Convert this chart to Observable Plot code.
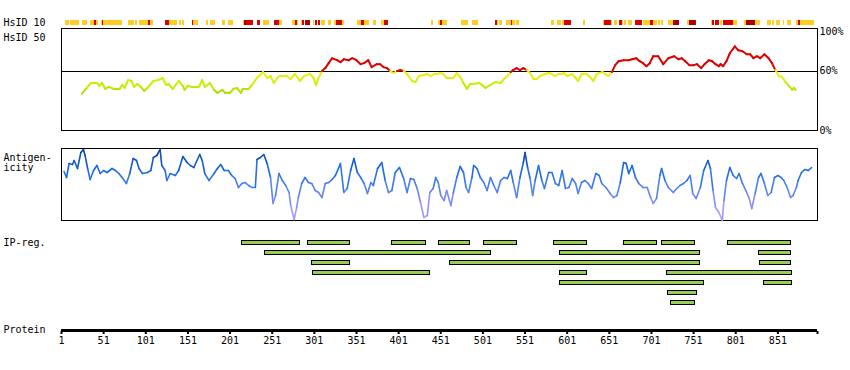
<!DOCTYPE html>
<html><head><meta charset="utf-8">
<script src="https://cdn.jsdelivr.net/npm/d3@7"></script>
<script src="https://cdn.jsdelivr.net/npm/@observablehq/plot@0.6"></script>
<style>
body{margin:0;background:#fff;}
#chart{position:relative;width:850px;height:370px;overflow:hidden;background:#fff;}
#chart svg{position:absolute;left:0;}
</style></head><body><div id="chart"></div>
<script>
// ---------------- DATA ----------------
const proteinLength = 898;
const proteinTicks = [1,51,101,151,201,251,301,351,401,451,501,551,601,651,701,751,801,851];

// HsID 10 strip: segment start/end residues and level (0 = low, 1 = high, 2 = highest)
const stripStart = [6,12,16,26,35,40,42,48,50,51,80,89,93,104,107,124,129,141,145,156,158,173,178,192,199,217,218,221,233,241,254,260,275,279,281,286,287,290,300,302,306,309,318,325,327,334,352,357,360,371,381,384,440,448,451,453,476,489,516,518,521,529,535,536,541,582,589,595,598,620,644,645,653,657,663,667,669,674,682,691,700,704,709,713,721,727,744,746,753,772,774,777,783,786,798,811,814,824,839,845,849,858,862,873,875,878];
const stripEnd   = [11,16,22,32,40,42,45,50,51,73,88,91,104,107,110,129,139,143,147,158,164,175,184,195,205,218,221,229,237,248,260,263,279,281,282,287,289,296,301,305,308,314,321,327,334,337,357,360,366,375,384,389,442,451,453,459,484,496,518,519,524,535,536,540,545,586,594,598,606,623,645,653,655,661,667,668,671,678,690,700,704,708,712,715,727,734,746,753,754,774,776,782,785,798,803,814,824,830,843,847,854,859,867,875,878,894];
const stripLevel = [0,0,0,0,0,1,0,0,1,0,0,0,0,1,0,1,0,0,0,1,0,0,0,0,0,0,2,1,1,0,1,0,0,1,0,0,1,2,0,1,1,0,0,0,1,0,0,1,0,0,0,1,0,0,1,0,0,0,1,0,0,0,1,0,0,0,0,0,1,0,0,1,0,0,1,0,0,0,1,0,1,0,0,0,0,2,0,2,1,0,1,1,0,1,0,0,2,0,0,0,0,0,0,0,1,0];

// HsID 50 (% identity) along the sequence
const hsidPos = [25,31,36,43,46,49,53,57,63,70,73,76,80,84,87,91,95,99,103,110,116,121,125,128,133,140,145,147,151,156,164,168,171,177,182,186,192,195,201,205,209,214,216,223,227,233,240,245,249,253,259,268,273,278,284,289,296,300,303,306,310,314,318,322,328,332,336,342,346,351,356,360,365,369,375,379,383,387,391,395,399,403,407,411,417,421,425,431,435,439,443,447,450,454,458,466,470,474,478,482,486,490,496,500,504,510,516,522,526,530,534,537,541,545,549,553,557,561,565,569,575,579,583,586,591,595,597,601,607,611,614,618,624,628,632,636,643,646,650,654,658,662,668,674,678,683,687,691,695,699,703,709,715,721,728,733,737,741,746,751,755,760,764,769,773,777,781,783,786,790,794,800,804,809,814,818,822,826,830,835,840,844,848,852,856,860,864,868,870,872];
const hsidVal = [37,43,48,48,45,48,42,44,42,42,46,43,51,50,44,47,44,40,43,50,51,53,46,47,42,50,45,41,45,44,44,51,44,48,41,38,41,38,38,42,43,38,42,42,46,53,59,53,55,48,55,55,52,57,50,55,57,53,46,53,60,63,68,73,71,69,72,71,73,71,67,68,71,64,67,67,64,63,60,58,60,61,60,57,50,49,55,56,57,55,57,57,58,57,53,53,58,54,48,42,47,47,48,46,43,46,49,48,52,55,59,61,63,61,63,61,58,52,52,55,57,58,57,55,57,57,58,55,57,53,50,57,57,54,50,57,59,57,55,59,66,70,71,71,72,73,70,68,65,68,75,75,67,73,75,72,73,70,66,66,67,63,67,71,70,67,65,67,65,70,78,85,81,80,77,77,73,75,73,77,73,68,61,55,54,49,45,41,43,41];
const hsidThreshold = 60;
const hsidTicks = [0, 60, 100];

// Antigenicity profile (relative score)
const antPos = [4,7,10,14,16,20,24,27,29,32,35,39,43,47,51,55,61,65,69,73,78,82,86,90,93,97,103,107,110,114,118,120,124,126,130,136,140,145,150,154,158,165,168,171,176,182,186,190,194,199,203,207,211,215,219,223,227,231,233,237,241,245,249,252,255,259,263,267,271,273,277,280,282,286,290,294,298,302,306,310,314,318,322,326,332,336,340,344,348,352,356,360,364,368,371,376,381,385,389,393,397,402,407,411,415,419,423,427,431,435,438,442,445,448,451,455,458,463,466,470,474,478,481,484,488,490,494,498,502,506,510,514,518,522,526,530,534,537,541,545,549,551,554,557,560,563,567,571,574,579,583,587,591,595,599,603,607,611,614,618,622,626,630,635,639,642,647,652,656,660,664,668,671,674,678,682,686,691,696,700,703,707,711,713,717,721,727,731,735,739,743,747,750,754,759,763,768,771,774,777,781,785,787,790,794,798,802,805,809,813,817,820,824,828,831,835,839,843,847,851,855,858,862,866,869,873,875,879,883,887,891];
const antVal = [49,43,57,56,60,52,68,71,65,52,41,50,55,47,50,48,52,50,47,43,37,47,62,60,52,47,48,50,63,65,71,55,50,40,47,45,50,64,58,55,53,66,60,47,40,47,52,56,50,50,45,42,33,37,38,35,33,33,61,63,66,57,43,17,25,47,40,35,28,15,1,13,23,37,43,38,37,30,28,23,37,38,41,45,57,28,32,50,62,48,43,37,27,38,35,52,58,40,28,30,48,53,42,28,42,41,32,18,3,5,28,32,43,38,25,20,30,15,28,43,54,48,33,28,43,55,52,43,38,30,43,35,28,40,43,42,50,38,23,43,58,68,53,42,25,40,55,40,32,48,48,37,35,50,32,33,42,37,27,38,40,37,32,47,45,37,33,27,23,25,38,58,57,47,55,43,37,33,33,23,17,22,45,52,40,33,28,32,35,37,40,45,27,22,33,50,60,52,30,13,8,0,20,40,53,45,42,47,37,30,22,12,27,43,47,37,25,28,43,45,43,40,33,23,25,33,40,48,51,50,53];

// IP-reg. regions: start, end residue and row
const ipStart = [215,294,393,449,502,585,668,714,792, 243,592,828, 298,462,830, 299,592,720, 592,835, 721, 724];
const ipEnd   = [284,343,433,486,542,625,707,753,867, 511,758,867, 343,758,867, 438,625,868, 763,868, 755, 753];
const ipRow   = [0,0,0,0,0,0,0,0,0, 1,1,1, 2,2,2, 3,3,3, 4,4, 5, 6];

// ---------------- STYLE / LAYOUT ----------------
const W = 850, ML = 61, MR = 33;
const FONT = "'DejaVu Sans Mono', monospace";
const stripColors = ["#ffcc22", "#dd0000", "#aa0000"];
const hsidLow = d3.scaleLinear().domain([36, 46, 57]).range(["#99dd00", "#c8ee00", "#eeee11"]).clamp(true);
const hsidColor = v => v >= hsidThreshold ? "#dd0000" : hsidLow(v);
const antColor = d3.scaleLinear().domain([0, 18, 35, 50, 68]).range(["#b4a4ff", "#8c90f8", "#4a80f0", "#1a6ae8", "#0a44a4"]).clamp(true);

const chart = document.getElementById("chart");
function panel(top, opts) {
  const svg = Plot.plot({
    width: W, marginLeft: ML, marginRight: MR,
    style: {fontFamily: FONT, fontSize: "10px", background: "transparent", color: "#000", overflow: "visible"},
    x: {domain: [1, proteinLength], axis: null},
    color: {type: "identity"},
    ...opts
  });
  svg.style.top = top + "px";
  chart.append(svg);
}
const label = (t, dy, anchor = "left") => Plot.text([t], {frameAnchor: anchor, dx: -58, dy, textAnchor: "start", fill: "#000"});

// HsID 10 strip
panel(0, {
  height: 28, marginTop: 20, marginBottom: 3,
  marks: [
    Plot.rect(d3.range(stripStart.length), {x1: i => stripStart[i], x2: i => stripEnd[i], fill: i => stripColors[stripLevel[i]], shapeRendering: "crispEdges"}),
    label("HsID 10", 0)
  ]
});

// HsID 50 panel
const hi = d3.range(hsidPos.length - 1);
panel(28, {
  height: 110, marginTop: 0, marginBottom: 8,
  y: {domain: [0, 103], axis: null},
  marks: [
    Plot.frame({stroke: "#000", shapeRendering: "crispEdges"}),
    Plot.ruleY([hsidThreshold], {stroke: "#000", shapeRendering: "crispEdges"}),
    Plot.link(hi, {x1: i => hsidPos[i], y1: i => hsidVal[i], x2: i => hsidPos[i+1], y2: i => hsidVal[i+1],
      stroke: i => hsidColor((hsidVal[i] + hsidVal[i+1]) / 2), strokeWidth: 2, strokeLinecap: "round"}),
    Plot.axisY({anchor: "right", ticks: hsidTicks, tickFormat: d => d + "%", tickSize: 0, tickPadding: 2, fill: "#000"}),
    label("HsID 50", 5, "top-left")
  ]
});

// Antigenicity panel
const ai = d3.range(antPos.length - 1);
panel(140, {
  height: 85, marginTop: 8, marginBottom: 5,
  y: {domain: [0, 72], axis: null},
  marks: [
    Plot.frame({stroke: "#000", shapeRendering: "crispEdges"}),
    Plot.link(ai, {x1: i => antPos[i], y1: i => antVal[i], x2: i => antPos[i+1], y2: i => antVal[i+1],
      stroke: i => antColor((antVal[i] + antVal[i+1]) / 2), strokeWidth: 1.6, strokeLinecap: "round"}),
    label("Antigen-", 5, "top-left"),
    label("icity", 15, "top-left")
  ]
});

// IP-reg panel
panel(237, {
  height: 70, marginTop: 0, marginBottom: 0,
  y: {domain: [7, 0], axis: null},
  marks: [
    Plot.rect(d3.range(ipStart.length), {x1: i => ipStart[i], x2: i => ipEnd[i], y1: i => ipRow[i] + 0.3, y2: i => ipRow[i] + 0.7,
      fill: "#99cc55", stroke: "#000", strokeWidth: 1, shapeRendering: "crispEdges"}),
    Plot.text(["IP-reg."], {y: () => 0.5, frameAnchor: "left", dx: -58, textAnchor: "start", fill: "#000"})
  ]
});

// Protein axis
panel(315, {
  height: 45, marginTop: 13, marginBottom: 29,
  y: {domain: [0, 1], axis: null},
  marks: [
    Plot.ruleY([0.5], {stroke: "#000", strokeWidth: 3, shapeRendering: "crispEdges"}),
    Plot.axisX({anchor: "bottom", ticks: [...proteinTicks, proteinLength], tickFormat: d => d === proteinLength ? "" : String(d),
      tickSize: 3, tickPadding: 2, strokeWidth: 2, stroke: "#000", fill: "#000"}),
    label("Protein", 0)
  ]
});
</script></body></html>
